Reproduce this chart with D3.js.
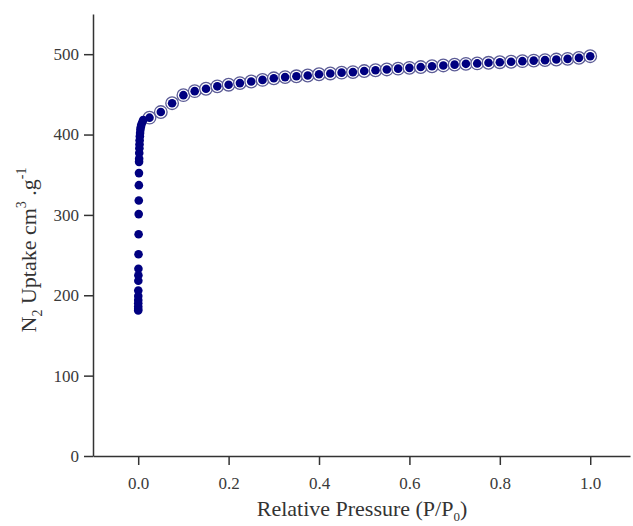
<!DOCTYPE html>
<html lang="en">
<head>
    <meta charset="UTF-8">
    <title>N2 isotherm</title>
    <script src="https://d3js.org/d3.v7.min.js"></script>
    <style>
        body { margin: 0; background-color: white; }
        svg { display: block; font-family: "Liberation Serif", "DejaVu Serif", serif; }
    </style>
</head>
<body>
    <svg id="chart"></svg>

    <script>
        const width = 633;
        const height = 526;

        // low pressure part of the adsorption branch
        const lowP = [0.00002, 0.00003, 0.00005, 0.00007, 0.0001, 0.00015, 0.0002, 0.0003, 0.0004, 0.0005,
                      0.0007, 0.0009, 0.0011, 0.0013, 0.0015, 0.0017, 0.0019, 0.0021, 0.0023, 0.0026,
                      0.0029, 0.0032, 0.0037, 0.0042, 0.0048, 0.0056, 0.0068, 0.0088, 0.011];
        const lowV = [181, 183, 186, 190, 194, 199, 206, 218, 225, 233,
                      251, 276, 301, 318, 337, 352, 366, 370, 377, 383,
                      388, 393, 398, 402, 406, 409, 412, 415, 418];

        // regular points, P/P0 = 0.025 ... 1.0
        const highP = [0.025, 0.05, 0.075, 0.1, 0.125, 0.15, 0.175, 0.2, 0.225, 0.25,
                       0.275, 0.3, 0.325, 0.35, 0.375, 0.4, 0.425, 0.45, 0.475, 0.5,
                       0.525, 0.55, 0.575, 0.6, 0.625, 0.65, 0.675, 0.7, 0.725, 0.75,
                       0.775, 0.8, 0.825, 0.85, 0.875, 0.9, 0.925, 0.95, 0.975, 1.0];
        const adsV = [421, 428, 439, 449, 454, 457, 460, 462, 464, 466,
                      468, 470, 471.5, 472.5, 473.5, 475, 476, 477, 477.7, 479,
                      480, 481, 482, 483, 484, 485, 486, 487, 488, 488.5,
                      489.3, 490, 490.6, 491.3, 492, 492.6, 493.3, 494.2, 495.4, 497.5];
        const desV = [421, 428, 439, 449, 454, 457, 460, 462, 464, 466,
                      468, 470, 471.5, 472.5, 473.5, 475, 476, 477, 477.7, 479,
                      480, 481, 482, 483, 484, 485, 486, 487, 488, 488.5,
                      489.3, 490, 490.6, 491.3, 492, 492.6, 493.3, 494.2, 495.4, 497.5];

        const xTicks = [0, 0.2, 0.4, 0.6, 0.8, 1.0];
        const yTicks = [0, 100, 200, 300, 400, 500];

        const ads = lowP.map((p, i) => ({ p: p, v: lowV[i] }))
            .concat(highP.map((p, i) => ({ p: p, v: adsV[i] })));
        const des = highP.map((p, i) => ({ p: p, v: desV[i] }));

        const svg = d3.select("#chart")
            .attr("width", width)
            .attr("height", height);

        const x = d3.scaleLinear().domain([-0.1, 1.088]).range([93, 630]);
        const y = d3.scaleLinear().domain([0, 550]).range([456, 14]);

        // axes
        const xAxis = svg.append("g")
            .attr("transform", "translate(0,456)")
            .call(d3.axisBottom(x).tickValues(xTicks).tickFormat(d3.format(".1f"))
                .tickSize(9).tickSizeOuter(0).tickPadding(12));
        const yAxis = svg.append("g")
            .attr("transform", "translate(93,0)")
            .call(d3.axisLeft(y).tickValues(yTicks).tickSize(9).tickSizeOuter(0).tickPadding(5));

        [xAxis, yAxis].forEach(g => {
            g.select(".domain").attr("stroke", "#333").attr("stroke-width", 1.5);
            g.selectAll(".tick line").attr("stroke", "#333").attr("stroke-width", 1.5);
            g.selectAll(".tick text")
                .attr("fill", "#3a3a3a")
                .style("font-family", "Liberation Serif")
                .style("font-size", "17px");
        });

        // desorption: open rings
        svg.append("g").selectAll("circle")
            .data(des)
            .enter()
            .append("circle")
            .attr("cx", d => x(d.p))
            .attr("cy", d => y(d.v))
            .attr("r", 6.3)
            .attr("fill", "white")
            .attr("stroke", "#5c5c96")
            .attr("stroke-width", 1.3);

        // adsorption: filled dots
        svg.append("g").selectAll("circle")
            .data(ads)
            .enter()
            .append("circle")
            .attr("cx", d => x(d.p))
            .attr("cy", d => y(d.v))
            .attr("r", 4.3)
            .attr("fill", "#000080");

        // axis titles
        svg.append("text")
            .attr("x", 362)
            .attr("y", 516)
            .attr("text-anchor", "middle")
            .attr("fill", "#333")
            .style("font-size", "22px")
            .html("Relative Pressure (P/P<tspan dy='5' font-size='13px'>0</tspan><tspan dy='-5'>)</tspan>");

        svg.append("text")
            .attr("transform", "translate(36,250) rotate(-90)")
            .attr("text-anchor", "middle")
            .attr("fill", "#333")
            .style("font-size", "22px")
            .html("N<tspan dy='6' font-size='14px'>2</tspan><tspan dy='-6'> Uptake cm</tspan>" +
                  "<tspan dy='-10' font-size='14px'>3</tspan><tspan dy='10'> .g</tspan>" +
                  "<tspan dy='-10' font-size='14px'>-1</tspan>");
    </script>
</body>
</html>
